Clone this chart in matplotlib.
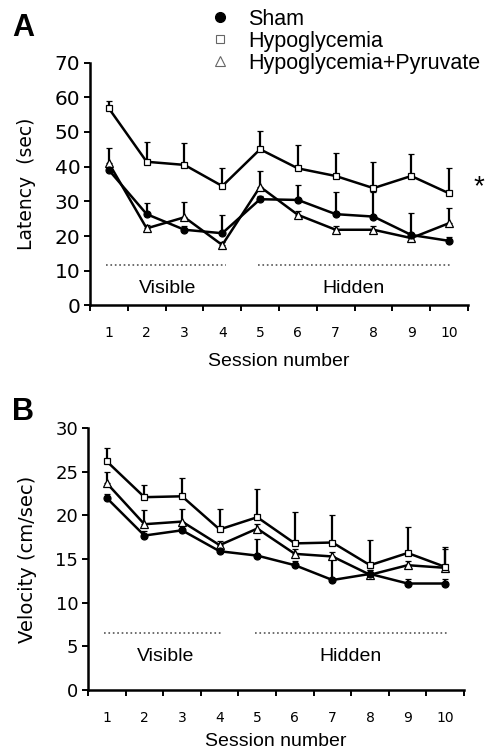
import numpy as np
import matplotlib
matplotlib.use('Agg')
import matplotlib.pyplot as plt
from matplotlib.lines import Line2D

sessions = np.arange(1, 11)

# Panel A - latency (sec)
lat_sham = [39.0, 26.3, 21.8, 20.8, 30.6, 30.4, 26.3, 25.6, 20.3, 18.6]
lat_sham_err = [1.0, 3.2, 1.0, 5.3, 1.0, 4.3, 6.5, 7.0, 6.3, 1.0]
lat_hypo = [56.8, 41.4, 40.5, 34.4, 45.0, 39.5, 37.3, 33.8, 37.3, 32.3]
lat_hypo_err = [2.2, 5.8, 6.4, 5.1, 5.4, 6.8, 6.7, 7.6, 6.4, 7.2]
lat_pyr = [41.0, 22.2, 25.4, 17.4, 34.2, 26.1, 21.8, 21.8, 19.4, 23.7]
lat_pyr_err = [4.3, 1.0, 4.5, 1.0, 4.4, 1.0, 1.0, 1.0, 1.0, 4.3]

# Panel B - velocity (cm/sec)
vel_sham = [22.0, 17.7, 18.3, 15.9, 15.4, 14.3, 12.6, 13.3, 12.2, 12.2]
vel_sham_err = [0.5, 0.5, 0.5, 0.5, 1.9, 0.5, 2.6, 0.5, 0.5, 0.5]
vel_hypo = [26.2, 22.1, 22.2, 18.4, 19.8, 16.8, 16.9, 14.3, 15.7, 14.1]
vel_hypo_err = [1.5, 1.4, 2.1, 2.4, 3.2, 3.6, 3.2, 2.9, 3.0, 2.1]
vel_pyr = [23.7, 19.0, 19.3, 16.6, 18.5, 15.6, 15.3, 13.2, 14.3, 14.0]
vel_pyr_err = [1.3, 1.6, 1.4, 0.5, 0.5, 0.5, 0.5, 0.5, 0.5, 2.4]

phase_names = ['Visible', 'Hidden']

fig = plt.figure(figsize=(4.89, 7.54), dpi=100)

num_font = 'DejaVu Sans'
txt_font = 'Liberation Sans'


def draw_panel(ax, sham, sham_err, hypo, hypo_err, pyr, pyr_err, ymax, ystep,
               ylabel, line_y, text_y, tick_size, ylab_size, xlab_pad):
    zero = [0] * len(sessions)
    groups = [
        (pyr, pyr_err, '^', 'white', 6.0),
        (sham, sham_err, 'o', 'black', 5.0),
        (hypo, hypo_err, 's', 'white', 5.0),
    ]
    for vals, errs, m, fc, ms in groups:
        ax.errorbar(sessions, vals, yerr=[zero, errs], fmt='-', color='black',
                    lw=1.8, elinewidth=1.6, capsize=2.2, capthick=1.6,
                    marker=m, mfc=fc, mec='black', mew=0.9, ms=ms, zorder=3)
    ax.set_xlim(0.5, 10.5)
    ax.set_ylim(0, ymax)
    ax.spines['top'].set_visible(False)
    ax.spines['right'].set_visible(False)
    ax.spines['left'].set_linewidth(1.8)
    ax.spines['bottom'].set_linewidth(1.8)
    ax.set_xticks(np.arange(0.5, 11, 1))
    ax.set_xticklabels([])
    ax.set_xticks(sessions, minor=True)
    ax.set_xticklabels([str(s) for s in sessions], minor=True,
                       family=num_font, fontsize=10)
    ax.tick_params(axis='x', which='major', direction='out', length=4, width=1.4)
    ax.tick_params(axis='x', which='minor', length=0, pad=15)
    ax.set_yticks(np.arange(0, ymax + 1, ystep))
    ax.tick_params(axis='y', direction='out', length=4, width=1.4, pad=3)
    for lab in ax.get_yticklabels():
        lab.set_family(num_font)
        lab.set_fontsize(tick_size)
    ax.set_xlabel('Session number', family=txt_font, fontsize=14, labelpad=xlab_pad)
    ax.set_ylabel(ylabel, family=num_font, fontsize=ylab_size, labelpad=13)
    # phase lines
    ax.plot([0.92, 4.1], [line_y, line_y], ls=':', color='#555555', lw=1.2)
    ax.plot([4.95, 10.07], [line_y, line_y], ls=':', color='#555555', lw=1.2)
    ax.text(2.56, text_y, phase_names[0], ha='center', va='center',
            family=txt_font, fontsize=14)
    ax.text(7.48, text_y, phase_names[1], ha='center', va='center',
            family=txt_font, fontsize=14)


axA = fig.add_axes([0.184, 0.595, 0.773, 0.322])
draw_panel(axA, lat_sham, lat_sham_err, lat_hypo, lat_hypo_err, lat_pyr, lat_pyr_err,
           70, 10, 'Latency  (sec)', 11.5, 5.0, 14.5, 13.5, 9)
axA.text(10.78, 34.0, '*', ha='center', va='center', fontsize=20,
         family=txt_font, clip_on=False)

axB = fig.add_axes([0.180, 0.085, 0.769, 0.347])
draw_panel(axB, vel_sham, vel_sham_err, vel_hypo, vel_hypo_err, vel_pyr, vel_pyr_err,
           30, 5, 'Velocity (cm/sec)', 6.5, 3.8, 13, 14, 6)

fig.text(0.025, 0.952, 'A', family=txt_font, fontsize=22, fontweight='bold')
fig.text(0.025, 0.443, 'B', family=txt_font, fontsize=22, fontweight='bold')

handles = [
    Line2D([], [], ls='none', marker='o', mfc='black', mec='black', ms=7),
    Line2D([], [], ls='none', marker='s', mfc='white', mec='#666666', mew=0.8, ms=6),
    Line2D([], [], ls='none', marker='^', mfc='white', mec='#666666', mew=0.8, ms=7),
]
fig.legend(handles, ['Sham', 'Hypoglycemia', 'Hypoglycemia+Pyruvate'],
           loc='upper left', bbox_to_anchor=(0.41, 1.0), frameon=False,
           prop={'family': txt_font, 'size': 15.5}, handlelength=1.0,
           handletextpad=0.8, labelspacing=0.05, borderaxespad=0)

fig.savefig('out.png', dpi=100)
